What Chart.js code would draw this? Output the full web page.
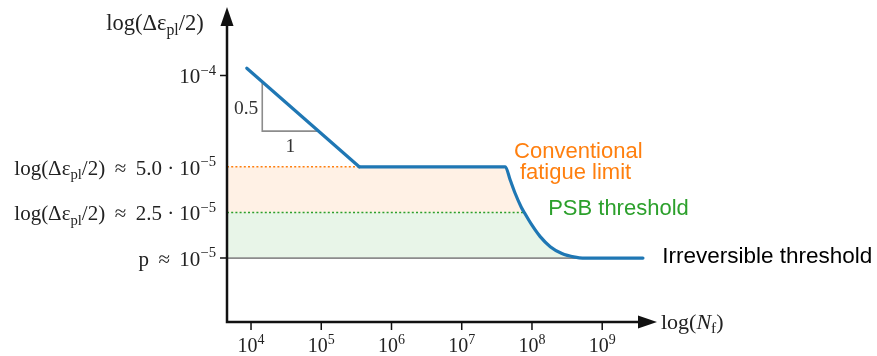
<!DOCTYPE html>
<html>
<head>
<meta charset="utf-8">
<script src="https://cdn.jsdelivr.net/npm/chart.js@4.4.1/dist/chart.umd.min.js"></script>
<style>
  body { margin: 0; background: #fff; }
  canvas { display: block; }
</style>
</head>
<body>
<canvas id="chart" width="877" height="356"></canvas>
<script>
// x values are log10(N_f), y values are schematic levels (0 = 1e-5 ... 4 = 1e-4)
const slopeLogN = [3.94, 5.54];
const slopeY = [4.16, 2.0];

const curveLogN = [5.54, 7.62, 7.69, 7.76, 7.846, 7.89, 8.0, 8.117, 8.26, 8.426, 8.615, 8.72, 9.58];
const curveY = [2.0, 2.0, 1.71, 1.42, 1.12, 1.0, 0.72, 0.47, 0.25, 0.10, 0.02, 0.0, 0.0];

const triLogN = [4.16, 4.16, 4.96];
const triY = [3.85, 2.78, 2.78];

const xTickExps = [4, 5, 6, 7, 8, 9];
const levelY = [4, 2, 1, 0];          // 1e-4, 5e-5, 2.5e-5, 1e-5
const levelTicks = [true, false, false, true];
const levelLabels = [
  [['10', ''], ['−4', 'sup']],
  [['log(Δε', ''], ['pl', 'sub'], ['/2) \u2009≈\u2009 5.0 · 10', ''], ['−5', 'sup']],
  [['log(Δε', ''], ['pl', 'sub'], ['/2) \u2009≈\u2009 2.5 · 10', ''], ['−5', 'sup']],
  [['p \u2009≈\u2009 10', ''], ['−5', 'sup']]
];

const convLevel = 2, psbLevel = 1, irrevLevel = 0;

const SERIF = '"Liberation Serif", "Times New Roman", serif';
const SANS = '"Liberation Sans", Arial, sans-serif';

function pts(xs, ys) {
  return xs.map((v, i) => ({ x: v, y: ys[i] }));
}

// where the curve sits at a level (first or last point with that y)
function curveAt(level, last) {
  let idx = last ? curveY.lastIndexOf(level) : curveY.indexOf(level);
  return curveLogN[idx];
}

const xLeft = 3.658;
const orangePoly = [{ x: xLeft, y: convLevel }]
  .concat(pts(curveLogN, curveY).filter(p => p.y <= convLevel && p.y >= psbLevel && p.x >= curveAt(convLevel, true)))
  .concat([{ x: xLeft, y: psbLevel }]);
const greenPoly = [{ x: xLeft, y: psbLevel }]
  .concat(pts(curveLogN, curveY).filter(p => p.y <= psbLevel && p.x <= curveAt(irrevLevel, false)))
  .concat([{ x: xLeft, y: irrevLevel }]);

function drawRich(ctx, parts, x, y, align, size, family) {
  const fontFor = k => {
    const s = (k.includes('sup') || k.includes('sub')) ? size * 0.7 : size;
    return (k.includes('i') && !k.includes('sub') ? 'italic ' : '') + s + 'px ' + family;
  };
  let total = 0;
  parts.forEach(p => { ctx.font = fontFor(p[1]); total += ctx.measureText(p[0]).width; });
  let cx = align === 'right' ? x - total : align === 'center' ? x - total / 2 : x;
  ctx.textAlign = 'left';
  ctx.textBaseline = 'alphabetic';
  parts.forEach(p => {
    ctx.font = fontFor(p[1]);
    let dy = 0;
    if (p[1].includes('sup')) dy = -size * 0.42;
    if (p[1].includes('sub')) dy = size * 0.2;
    ctx.fillText(p[0], cx, y + dy);
    cx += ctx.measureText(p[0]).width;
  });
}

const axesPlugin = {
  id: 'axes',
  afterDraw(chart) {
    const { ctx, chartArea: a, scales: { x, y } } = chart;
    ctx.save();
    ctx.strokeStyle = '#111';
    ctx.fillStyle = '#111';
    ctx.lineWidth = 2.5;
    ctx.beginPath();
    ctx.moveTo(a.left, a.bottom + 1.2);
    ctx.lineTo(a.left, a.top + 15);
    ctx.moveTo(a.left - 1.2, a.bottom);
    ctx.lineTo(a.right - 15, a.bottom);
    ctx.stroke();
    // arrow heads
    ctx.beginPath();
    ctx.moveTo(a.left, a.top);
    ctx.lineTo(a.left - 6.5, a.top + 19);
    ctx.lineTo(a.left + 6.5, a.top + 19);
    ctx.closePath();
    ctx.fill();
    ctx.beginPath();
    ctx.moveTo(a.right, a.bottom);
    ctx.lineTo(a.right - 19, a.bottom - 6.5);
    ctx.lineTo(a.right - 19, a.bottom + 6.5);
    ctx.closePath();
    ctx.fill();

    // ticks
    ctx.lineWidth = 1.5;
    ctx.beginPath();
    xTickExps.forEach(e => {
      const px = x.getPixelForValue(e);
      ctx.moveTo(px, a.bottom);
      ctx.lineTo(px, a.bottom + 8);
    });
    levelY.forEach((v, i) => {
      if (!levelTicks[i]) return;
      const py = y.getPixelForValue(v);
      ctx.moveTo(a.left - 7, py);
      ctx.lineTo(a.left, py);
    });
    ctx.stroke();

    // x tick labels
    ctx.fillStyle = '#222';
    xTickExps.forEach(e => {
      drawRich(ctx, [['10', ''], [String(e), 'sup']], x.getPixelForValue(e), a.bottom + 30, 'center', 20, SERIF);
    });
    // y level labels
    levelY.forEach((v, i) => {
      drawRich(ctx, levelLabels[i], a.left - 11, y.getPixelForValue(v) + 8, 'right', 21, SERIF);
    });
    // axis titles
    drawRich(ctx, [['log(Δε', ''], ['pl', 'sub'], ['/2)', '']], 155, 30, 'center', 22.5, SERIF);
    drawRich(ctx, [['log(', ''], ['N', 'i'], ['f', 'sub'], [')', '']], a.right + 4, a.bottom + 7, 'left', 22, SERIF);

    // slope triangle labels
    ctx.fillStyle = '#333';
    drawRich(ctx, [['0.5', '']], x.getPixelForValue(triLogN[0]) - 4, y.getPixelForValue((triY[0] + triY[1]) / 2) + 7, 'right', 19.5, SERIF);
    drawRich(ctx, [['1', '']], x.getPixelForValue((triLogN[1] + triLogN[2]) / 2), y.getPixelForValue(triY[1]) + 21, 'center', 19.5, SERIF);

    // annotations
    ctx.font = '22px ' + SANS;
    ctx.textBaseline = 'middle';
    ctx.textAlign = 'center';
    ctx.fillStyle = '#ff7f0e';
    ctx.fillText('Conventional', x.getPixelForValue(8.66), y.getPixelForValue(2.32));
    ctx.fillText('fatigue limit', x.getPixelForValue(8.62), y.getPixelForValue(1.86));
    ctx.textAlign = 'left';
    ctx.fillStyle = '#2ca02c';
    ctx.fillText('PSB threshold', x.getPixelForValue(8.23), y.getPixelForValue(1.07));
    ctx.fillStyle = '#000';
    ctx.font = '22.5px ' + SANS;
    ctx.fillText('Irreversible threshold', x.getPixelForValue(9.855), y.getPixelForValue(0.02));
    ctx.restore();
  }
};

new Chart(document.getElementById('chart'), {
  type: 'line',
  data: {
    datasets: [
      {
        data: pts(slopeLogN, slopeY),
        borderColor: '#1f77b4', borderWidth: 3.2, tension: 0,
        pointRadius: 0, borderCapStyle: 'round', order: 0
      },
      {
        data: pts(curveLogN, curveY),
        borderColor: '#1f77b4', borderWidth: 3.2, cubicInterpolationMode: 'monotone',
        pointRadius: 0, borderCapStyle: 'round', borderJoinStyle: 'round', order: 0
      },
      {
        data: pts(triLogN, triY),
        borderColor: '#8c8c8c', borderWidth: 1.6, tension: 0, pointRadius: 0, order: 1
      },
      {
        data: [{ x: xLeft, y: convLevel }, { x: slopeLogN[1], y: convLevel }],
        borderColor: '#ff7f0e', borderWidth: 1.6, borderDash: [2, 2.2], pointRadius: 0, order: 2
      },
      {
        data: [{ x: xLeft, y: psbLevel }, { x: curveAt(psbLevel, false), y: psbLevel }],
        borderColor: '#2ca02c', borderWidth: 1.6, borderDash: [2, 2.2], pointRadius: 0, order: 2
      },
      {
        data: [{ x: xLeft, y: irrevLevel }, { x: curveAt(irrevLevel, false), y: irrevLevel }],
        borderColor: '#8c8c8c', borderWidth: 1.6, pointRadius: 0, order: 2
      },
      {
        data: orangePoly, fill: 'shape', backgroundColor: 'rgba(255,127,14,0.11)',
        borderColor: 'transparent', borderWidth: 0, pointRadius: 0, tension: 0, order: 3
      },
      {
        data: greenPoly, fill: 'shape', backgroundColor: 'rgba(44,160,44,0.11)',
        borderColor: 'transparent', borderWidth: 0, pointRadius: 0, tension: 0, order: 3
      }
    ]
  },
  options: {
    responsive: false,
    animation: false,
    devicePixelRatio: 1,
    layout: { padding: { left: 227, right: 220, top: 7, bottom: 34 } },
    scales: {
      x: { type: 'linear', min: 3.658, max: 9.78, display: false },
      y: { type: 'linear', min: -1.4, max: 5.5, display: false }
    },
    plugins: { legend: { display: false }, tooltip: { enabled: false } }
  },
  plugins: [axesPlugin]
});
</script>
</body>
</html>
